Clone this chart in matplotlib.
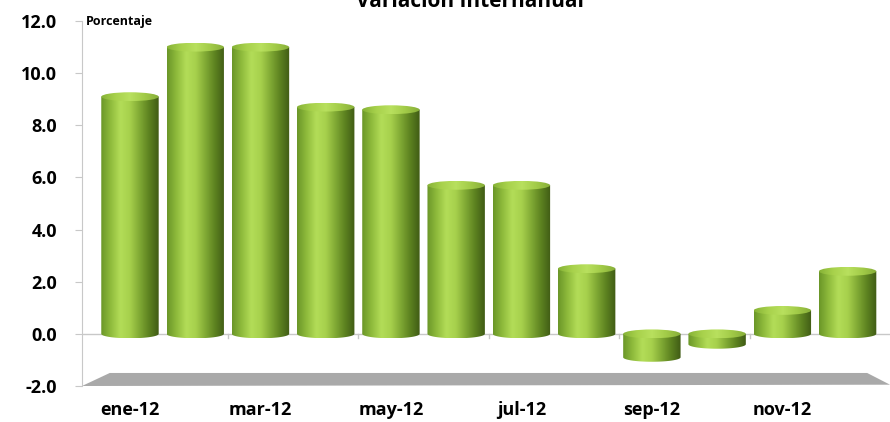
import numpy as np
import matplotlib.pyplot as plt
from matplotlib.colors import LinearSegmentedColormap
from matplotlib.patches import Polygon, Ellipse

plt.rcParams['font.family'] = ['Open Sans', 'DejaVu Sans']

meses = ['ene-12', 'feb-12', 'mar-12', 'abr-12', 'may-12', 'jun-12',
         'jul-12', 'ago-12', 'sep-12', 'oct-12', 'nov-12', 'dic-12']
variacion = [9.1, 11.0, 11.0, 8.7, 8.6, 5.7, 5.7, 2.5, -0.9, -0.4, 0.9, 2.4]
yticks = [-2.0, 0.0, 2.0, 4.0, 6.0, 8.0, 10.0, 12.0]

# shading across the cylinder body and its lid
body_cmap = LinearSegmentedColormap.from_list(
    'body', ['#6a9628', '#8fbb3c', '#b3dd58', '#a6d04c', '#80a934', '#5c8120', '#405b15'])
lid_cmap = LinearSegmentedColormap.from_list(
    'lid', ['#86b236', '#a8d24c', '#b8e05e', '#a2cb48', '#86ae38'])
grad = np.linspace(0, 1, 256).reshape(1, -1)

fig = plt.figure(figsize=(8.9, 4.22), dpi=100)
ax = fig.add_axes([0.0921, 0.0853, 0.9079, 0.8647])

w = 0.88    # cylinder width (category units)
eh = 0.17   # half height of the elliptical ends
t = np.linspace(np.pi, 2 * np.pi, 40)

for i, v in enumerate(variacion):
    base, top = min(0, v), max(0, v)
    xl, xr = i - w / 2, i + w / 2
    # body: straight sides plus the lower half of the bottom ellipse
    arc = np.column_stack([i + w / 2 * np.cos(t), base + eh * np.sin(t)])
    pts = np.vstack([[xl, top], arc, [xr, top]])
    body = Polygon(pts, closed=True, facecolor='none', edgecolor='none')
    ax.add_patch(body)
    im = ax.imshow(grad, cmap=body_cmap, extent=[xl, xr, base - eh, top],
                   aspect='auto', zorder=3, interpolation='bicubic')
    im.set_clip_path(body)
    lid = Ellipse((i, top), w, 2 * eh, facecolor='none', edgecolor='none')
    ax.add_patch(lid)
    im2 = ax.imshow(grad, cmap=lid_cmap, extent=[xl, xr, top - eh, top + eh],
                    aspect='auto', zorder=4, interpolation='bicubic')
    im2.set_clip_path(lid)

# floor of the chart
floor = Polygon([[-0.736, -2.0], [-0.31, -1.5], [11.3, -1.5], [11.65, -1.95]],
                closed=True, facecolor='#a9a9a9', edgecolor='none', zorder=1)
ax.add_patch(floor)

ax.axhline(0, color='#c8c8c8', lw=1, zorder=2)
for xb in [1.5, 3.5, 5.5, 7.5, 9.5]:
    ax.plot([xb, xb], [0, -0.15], color='#c8c8c8', lw=1, zorder=2)

ax.set_xlim(-0.736, 11.65)
ax.set_ylim(-2, 12)
ax.set_yticks(yticks)
ax.set_yticklabels([f'{y:.1f}' for y in yticks], fontsize=13, fontweight='bold')
ax.set_xticks(range(0, 12, 2))
ax.set_xticklabels(meses[::2], fontsize=13, fontweight='bold')
ax.tick_params(axis='y', length=5, color='#c8c8c8', pad=13)
ax.tick_params(axis='x', length=0, pad=11)

for s in ['top', 'right', 'bottom']:
    ax.spines[s].set_visible(False)
ax.spines['left'].set_color('#c8c8c8')

ax.text(0.005, 12.0, 'Porcentaje', fontsize=9, fontweight='bold', va='center', ha='left',
        transform=ax.get_yaxis_transform())
fig.text(0.528, 1 - 7 / 422, 'Variación Internanual', fontsize=15, fontweight='bold',
         ha='center', va='baseline')

plt.savefig('out.png', dpi=100)
